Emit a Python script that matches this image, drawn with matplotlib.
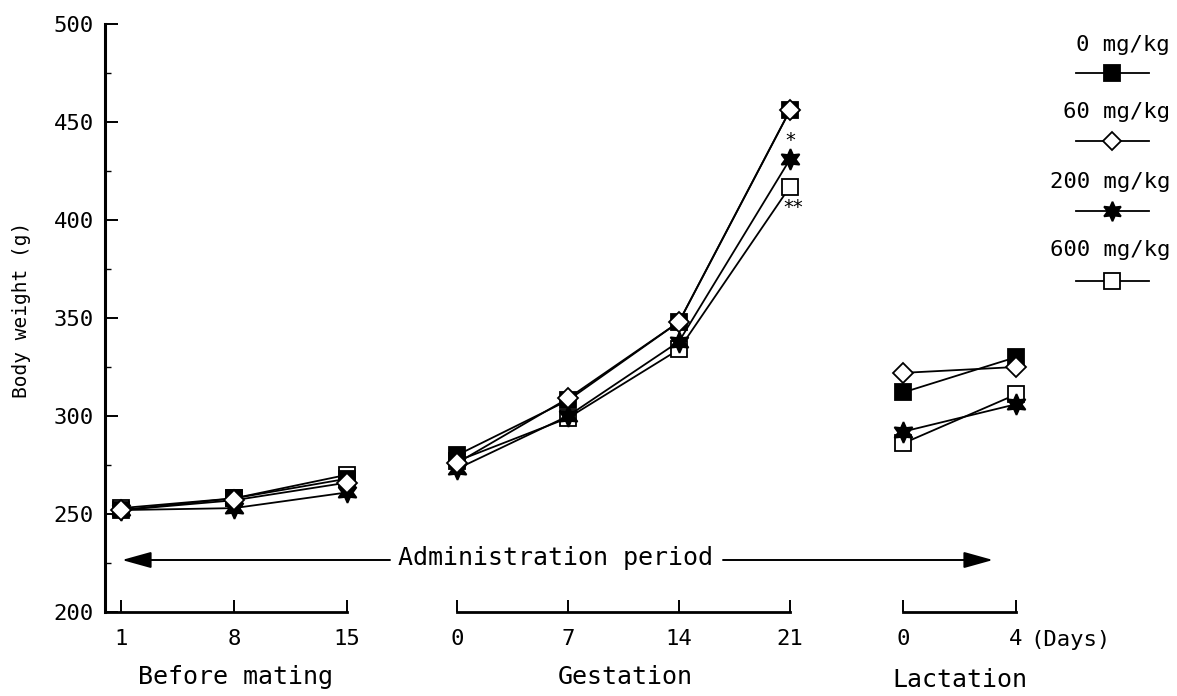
import matplotlib
matplotlib.use("Agg")
import matplotlib.pyplot as plt
from matplotlib.lines import Line2D
from matplotlib.patches import FancyArrowPatch
from matplotlib.ticker import MultipleLocator

plt.rcParams['font.family'] = ['DejaVu Sans Mono', 'DejaVu Sans']

# ---- data ----
bm_days = [1, 8, 15]
ges_days = [0, 7, 14, 21]
lac_days = [0, 4]

groups = ["0 mg/kg", "60 mg/kg", "200 mg/kg", "600 mg/kg"]
bm_vals = {
    "0 mg/kg":   [252, 258, 268],
    "60 mg/kg":  [252, 257, 266],
    "200 mg/kg": [252, 253, 261],
    "600 mg/kg": [253, 258, 270],
}
ges_vals = {
    "0 mg/kg":   [280, 308, 348, 456],
    "60 mg/kg":  [276, 309, 348, 456],
    "200 mg/kg": [273, 300, 338, 431],
    "600 mg/kg": [277, 299, 334, 417],
}
lac_vals = {
    "0 mg/kg":   [312, 330],
    "60 mg/kg":  [322, 325],
    "200 mg/kg": [292, 306],
    "600 mg/kg": [286, 311],
}
sig_marks = {"200 mg/kg": "*", "600 mg/kg": "**"}

styles = {
    "0 mg/kg":   dict(marker='s', ms=12, mfc='black', mec='black', z=4),
    "60 mg/kg":  dict(marker='D', ms=10.5, mfc='white', mec='black', z=5),
    "200 mg/kg": dict(marker=(6, 1, 0), ms=15, mfc='black', mec='black', z=3),
    "600 mg/kg": dict(marker='s', ms=12, mfc='white', mec='black', z=2),
}

W, H = 1177, 696
fig = plt.figure(figsize=(W / 100, H / 100), dpi=100)

def fx(px):
    return px / W

def fy(py):
    return 1 - py / H

top, bot = 24, 612
axes_px = [(105, 347), (457, 790), (903, 1016)]
xlims = [(0, 15), (0, 21), (0, 4)]
xticks = [bm_days, ges_days, lac_days]
datas = [bm_vals, ges_vals, lac_vals]
xs = [bm_days, ges_days, lac_days]

axs = []
for i, ((l, r), xl) in enumerate(zip(axes_px, xlims)):
    ax = fig.add_axes([fx(l), fy(bot), (r - l) / W, (bot - top) / H])
    ax.set_xlim(*xl)
    ax.set_ylim(200, 500)
    ax.patch.set_alpha(0)
    for s in ['top', 'right']:
        ax.spines[s].set_visible(False)
    ax.spines['bottom'].set_linewidth(2.0)
    ax.set_xticks(xticks[i])
    ax.tick_params(axis='x', direction='in', length=9, width=1.4, pad=12, labelsize=16)
    if i == 0:
        ax.spines['left'].set_linewidth(2.2)
        ax.yaxis.set_major_locator(MultipleLocator(50))
        ax.yaxis.set_minor_locator(MultipleLocator(25))
        ax.tick_params(axis='y', which='major', direction='in', length=9, width=1.4, pad=8, labelsize=16)
        ax.tick_params(axis='y', which='minor', direction='in', length=4, width=1.0)
    else:
        ax.spines['left'].set_visible(False)
        ax.set_yticks([])
    for g in groups:
        st = styles[g]
        ax.plot(xs[i], datas[i][g], color='black', lw=1.3, marker=st['marker'],
                ms=st['ms'], mfc=st['mfc'], mec=st['mec'], mew=1.3,
                zorder=st['z'], clip_on=False)
    axs.append(ax)

# significance marks at gestation day 21
axs[1].annotate(sig_marks["200 mg/kg"], (ges_days[-1], ges_vals["200 mg/kg"][-1]),
                xytext=(0, 7), textcoords='offset points', ha='center', va='bottom',
                fontsize=14, family='DejaVu Sans')
axs[1].annotate(sig_marks["600 mg/kg"], (ges_days[-1], ges_vals["600 mg/kg"][-1]),
                xytext=(2, -8), textcoords='offset points', ha='center', va='top',
                fontsize=14, family='DejaVu Sans')

# y label
fig.text(fx(22), fy(310), "Body weight (g)", rotation=90, ha='center', va='center', fontsize=14)

# x group labels
fig.text(fx(235), fy(677), "Before mating", ha='center', va='center', fontsize=18)
fig.text(fx(625), fy(677), "Gestation", ha='center', va='center', fontsize=18)
fig.text(fx(960), fy(680), "Lactation", ha='center', va='center', fontsize=18)
fig.text(fx(1030), fy(640), "(Days)", ha='left', va='center', fontsize=16)

# administration period arrow
ay = 560
fig.text(fx(556), fy(ay - 2), "Administration period", ha='center', va='center', fontsize=18)
arrow_kw = dict(arrowstyle='-|>,head_length=1.8,head_width=0.5', color='black', lw=1.4,
                shrinkA=0, shrinkB=0, mutation_scale=10)
fig.add_artist(FancyArrowPatch((fx(390), fy(ay)), (fx(122), fy(ay)),
                               transform=fig.transFigure, **arrow_kw))
fig.add_artist(FancyArrowPatch((fx(723), fy(ay)), (fx(993), fy(ay)),
                               transform=fig.transFigure, **arrow_kw))

# legend (manual, label above line)
leg_text_y = [45, 112, 182, 250]
leg_line_y = [73, 141, 211, 281]
for g, ty, ly in zip(groups, leg_text_y, leg_line_y):
    st = styles[g]
    fig.text(fx(1170), fy(ty), g, ha='right', va='center', fontsize=16)
    fig.add_artist(Line2D([fx(1076), fx(1149)], [fy(ly), fy(ly)], transform=fig.transFigure,
                          color='black', lw=1.3))
    fig.add_artist(Line2D([fx(1112)], [fy(ly)], transform=fig.transFigure, marker=st['marker'],
                          ms=st['ms'] - 1, mfc=st['mfc'], mec=st['mec'], mew=1.3, lw=0))

fig.savefig("out.png", dpi=100)
